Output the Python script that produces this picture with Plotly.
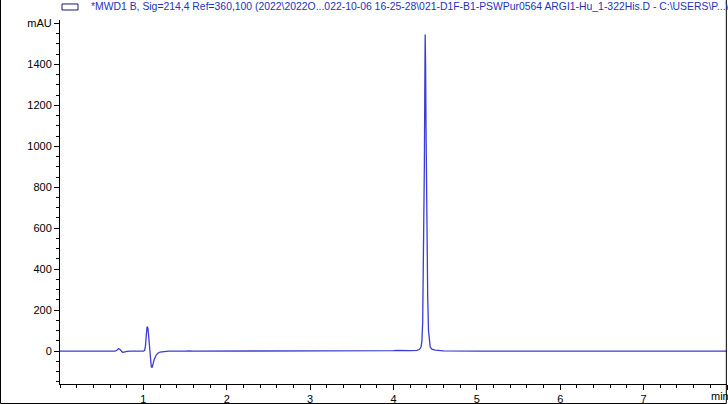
import plotly.graph_objects as go

# retention time (min) and signal (mAU)
times = [0.00, 0.30, 0.60, 0.66, 0.685, 0.70, 0.715, 0.73, 0.75, 0.77, 0.80, 0.85, 0.95, 1.00,
         1.015, 1.025, 1.035, 1.045, 1.055, 1.065, 1.075, 1.085, 1.095, 1.105, 1.115, 1.13,
         1.15, 1.17, 1.20, 1.24, 1.30, 1.50, 1.55, 1.60, 2.00, 2.50, 3.00, 3.50, 3.90,
         4.00, 4.05, 4.10, 4.20, 4.28, 4.31, 4.33, 4.34, 4.35, 4.36, 4.37, 4.375, 4.38,
         4.385, 4.39, 4.40, 4.41, 4.42, 4.43, 4.44, 4.46, 4.50, 4.60, 4.70, 5.00, 6.00,
         7.00, 8.00]
signal = [0, 0, 0, 0, 6, 12, 10, 2, -5, -4, -1, 0, 0, 0,
          4, 25, 80, 120, 112, 60, -5, -50, -76, -80, -62, -40,
          -22, -11, -4, -1, 0, 0, 2, 0, 0, 0, 0, 1, 2,
          3, 4, 3, 3, 4, 8, 20, 45, 140, 420, 900, 1250, 1545,
          1400, 1100, 620, 270, 100, 40, 20, 10, 5, 2, 1, 0, 0,
          0, 0]

x_ticks = [1, 2, 3, 4, 5, 6, 7, 8]
x_labels = ['1', '2', '3', '4', '5', '6', '7', '']
x_unit = 'min'
y_ticks = [0, 200, 400, 600, 800, 1000, 1200, 1400, 1600]
y_labels = ['0', '200', '400', '600', '800', '1000', '1200', '1400', 'mAU']

title = (r'*MWD1 B, Sig=214,4 Ref=360,100 (2022\2022O...022-10-06 16-25-28\021-D1F-B1-'
         r'PSWPur0564 ARGI1-Hu_1-322His.D - C:\USERS\P...\CHEM32')

fig = go.Figure(go.Scatter(
    x=times, y=signal, mode='lines',
    line=dict(color='#3c3cd4', width=1.3),
    showlegend=False, hoverinfo='skip'
))

axis_font = dict(family='Liberation Sans, Arial, sans-serif', size=11, color='#000000')
fig.update_layout(
    width=728, height=404,
    margin=dict(l=60, r=1, t=20, b=20),
    paper_bgcolor='white', plot_bgcolor='white',
    font=axis_font,
    xaxis=dict(range=[0, 8], tickvals=x_ticks, ticktext=x_labels, showgrid=False, zeroline=False,
               showline=True, linecolor='black', linewidth=1, ticks='outside', ticklen=5,
               tickcolor='black', tickfont=axis_font, automargin=False,
               minor=dict(dtick=0.2, tick0=0, ticks='outside', ticklen=3, tickcolor='black')),
    yaxis=dict(range=[-160, 1616], tickvals=y_ticks, ticktext=y_labels, showgrid=False, zeroline=False,
               showline=True, linecolor='black', linewidth=1, ticks='outside', ticklen=5,
               tickcolor='black', tickfont=axis_font, automargin=False,
               minor=dict(dtick=50, tick0=0, ticks='outside', ticklen=3, tickcolor='black')),
)

# unit label sits in place of the last x tick label
fig.add_annotation(text=x_unit, xref='x', yref='paper', x=x_ticks[-1], y=-0.012,
                   xanchor='center', yanchor='top', xshift=-7, showarrow=False, font=axis_font)

# legend box and signal description above the plot
fig.add_shape(type='rect', xref='paper', yref='paper', x0=0.003, x1=0.027, y0=1.0275, y1=1.044,
              line=dict(color='#1a1a6e', width=1), fillcolor='white')
fig.add_annotation(text=title, xref='paper', yref='paper', x=0.043, y=1.036,
                   xanchor='left', yanchor='middle', showarrow=False,
                   font=dict(family='Liberation Sans, Arial, sans-serif', size=10.4, color='#2233bb'))

# outer frame on left, bottom and right
fig.add_shape(type='path', xref='paper', yref='paper',
              path='M -0.0892,1.06 L -0.0892,-0.0536 L 0.999,-0.0536 L 0.999,1.06',
              line=dict(color='black', width=1))

# drop the page's default body margin so the figure sits at the window corner
fig.write_html('out.html', config={'displayModeBar': False},
               post_script="document.body.style.margin='0';")
